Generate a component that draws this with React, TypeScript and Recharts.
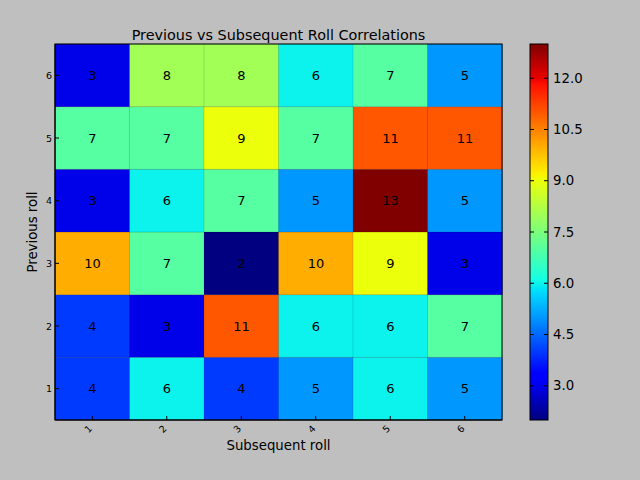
import { BarChart, Bar, XAxis, YAxis, Cell, LabelList } from "recharts"

// roll faces, used for both axes
const subsequentRolls = ["1", "2", "3", "4", "5", "6"]
const previousRolls = ["1", "2", "3", "4", "5", "6"]

// counts per previous roll, one entry per subsequent roll 1..6
const prevRoll1 = [4, 6, 4, 5, 6, 5]
const prevRoll2 = [4, 3, 11, 6, 6, 7]
const prevRoll3 = [10, 7, 2, 10, 9, 3]
const prevRoll4 = [3, 6, 7, 5, 13, 5]
const prevRoll5 = [7, 7, 9, 7, 11, 11]
const prevRoll6 = [3, 8, 8, 6, 7, 5]
const counts = [prevRoll1, prevRoll2, prevRoll3, prevRoll4, prevRoll5, prevRoll6]

const colorTicks = [3.0, 4.5, 6.0, 7.5, 9.0, 10.5, 12.0]
const colorMin = 2
const colorMax = 13

const W = 640
const H = 480
const margin = { top: 44, right: 138, bottom: 0, left: 0 }
const yAxisWidth = 55
const xAxisHeight = 60
const plotLeft = margin.left + yAxisWidth
const plotTop = margin.top
const plotRight = W - margin.right
const plotBottom = H - margin.bottom - xAxisHeight
const font = "DejaVu Sans, Liberation Sans, sans-serif"

// matplotlib "jet"
const jetR: [number, number][] = [[0, 0], [0.35, 0], [0.66, 1], [0.89, 1], [1, 0.5]]
const jetG: [number, number][] = [[0, 0], [0.125, 0], [0.375, 1], [0.64, 1], [0.91, 0], [1, 0]]
const jetB: [number, number][] = [[0, 0.5], [0.11, 1], [0.34, 1], [0.65, 0], [1, 0]]

function interp(pts: [number, number][], t: number) {
  for (let i = 1; i < pts.length; i++) {
    if (t <= pts[i][0]) {
      const [x0, y0] = pts[i - 1]
      const [x1, y1] = pts[i]
      return y0 + ((t - x0) / (x1 - x0)) * (y1 - y0)
    }
  }
  return pts[pts.length - 1][1]
}

function jetAt(t: number) {
  const c = Math.max(0, Math.min(1, t))
  const r = Math.round(interp(jetR, c) * 255)
  const g = Math.round(interp(jetG, c) * 255)
  const b = Math.round(interp(jetB, c) * 255)
  return `rgb(${r},${g},${b})`
}

const colorFor = (v: number) => jetAt((v - colorMin) / (colorMax - colorMin))

// one stacked segment of height 1 per previous roll, count kept alongside
const tableData = subsequentRolls.map((roll, j) => {
  const row: Record<string, string | number> = { roll }
  counts.forEach((series, i) => {
    row[`p${i}`] = 1
    row[`c${i}`] = series[j]
  })
  return row
})

const BottomTick = (props: any) => {
  const { x, y, payload } = props
  return (
    <g>
      <line x1={x} y1={y} x2={x} y2={y - 4} stroke="#000" />
      <g transform={`translate(${x - 4},${y + 9}) rotate(-45)`}>
        <text textAnchor="middle" dominantBaseline="central" fontSize={9.5} fontFamily={font} fill="#000">
          {payload.value}
        </text>
      </g>
    </g>
  )
}

const TopTick = (props: any) => {
  const { x, y } = props
  return <line x1={x} y1={y} x2={x} y2={y + 4} stroke="#000" />
}

const LeftTick = (props: any) => {
  const { x, y, index } = props
  return (
    <g>
      <line x1={x} y1={y} x2={x + 4} y2={y} stroke="#000" />
      <text x={x - 3} y={y} textAnchor="end" dominantBaseline="central" fontSize={9.5} fontFamily={font} fill="#000">
        {previousRolls[index]}
      </text>
    </g>
  )
}

const RightTick = (props: any) => {
  const { x, y } = props
  return <line x1={x} y1={y} x2={x - 4} y2={y} stroke="#000" />
}

const gradStops = [0, 0.11, 0.125, 0.2, 0.34, 0.35, 0.375, 0.5, 0.64, 0.65, 0.66, 0.75, 0.89, 0.91, 1]

export default function App() {
  const yTicks = previousRolls.map((_, i) => i + 0.5)
  const cbLeft = 530
  const cbWidth = 18
  const cbY = (v: number) => plotBottom - ((v - colorMin) / (colorMax - colorMin)) * (plotBottom - plotTop)

  return (
    <div style={{ position: "absolute", left: 0, top: 0, width: W, height: H, background: "#bfbfbf", fontFamily: font }}>
      <BarChart width={W} height={H} data={tableData} margin={margin} barCategoryGap={0} barGap={0}>
        <XAxis
          xAxisId="bottom"
          dataKey="roll"
          height={xAxisHeight}
          axisLine={{ stroke: "#000" }}
          tickLine={false}
          tickSize={0}
          tickMargin={0}
          tick={<BottomTick />}
          interval={0}
        />
        <XAxis
          xAxisId="top"
          dataKey="roll"
          orientation="top"
          height={0}
          axisLine={{ stroke: "#000" }}
          tickLine={false}
          tickSize={0}
          tickMargin={0}
          tick={<TopTick />}
          interval={0}
        />
        <YAxis
          yAxisId="left"
          type="number"
          domain={[0, previousRolls.length]}
          ticks={yTicks}
          width={yAxisWidth}
          axisLine={{ stroke: "#000" }}
          tickLine={false}
          tickSize={0}
          tickMargin={0}
          tick={<LeftTick />}
          interval={0}
        />
        <YAxis
          yAxisId="right"
          orientation="right"
          type="number"
          domain={[0, previousRolls.length]}
          ticks={yTicks}
          width={0}
          axisLine={{ stroke: "#000" }}
          tickLine={false}
          tickSize={0}
          tickMargin={0}
          tick={<RightTick />}
          interval={0}
        />
        {counts.map((series, i) => (
          <Bar
            key={i}
            xAxisId="bottom"
            yAxisId="left"
            dataKey={`p${i}`}
            stackId="grid"
            isAnimationActive={false}
          >
            {series.map((v, j) => (
              <Cell key={j} fill={colorFor(v)} stroke="rgba(0,0,0,0.12)" strokeWidth={1} />
            ))}
            <LabelList dataKey={`c${i}`} position="center" fill="#000" fontSize={13} fontFamily={font} />
          </Bar>
        ))}
      </BarChart>

      <svg width={W} height={H} style={{ position: "absolute", left: 0, top: 0, pointerEvents: "none" }}>
        <defs>
          <linearGradient id="jet" x1="0" y1="1" x2="0" y2="0">
            {gradStops.map((t) => (
              <stop key={t} offset={t} stopColor={jetAt(t)} />
            ))}
          </linearGradient>
        </defs>
        <rect
          x={plotLeft}
          y={plotTop}
          width={plotRight - plotLeft}
          height={plotBottom - plotTop}
          fill="none"
          stroke="#000"
        />
        <text x={(plotLeft + plotRight) / 2} y={40} textAnchor="middle" fontSize={14.4} fontFamily={font} fill="#000">
          Previous vs Subsequent Roll Correlations
        </text>
        <text x={(plotLeft + plotRight) / 2} y={450} textAnchor="middle" fontSize={13.3} fontFamily={font} fill="#000">
          Subsequent roll
        </text>
        <text
          transform={`translate(37,${(plotTop + plotBottom) / 2}) rotate(-90)`}
          textAnchor="middle"
          fontSize={13.3}
          fontFamily={font}
          fill="#000"
        >
          Previous roll
        </text>

        <rect x={cbLeft} y={plotTop} width={cbWidth} height={plotBottom - plotTop} fill="url(#jet)" stroke="#000" />
        {colorTicks.map((v) => (
          <g key={v}>
            <line x1={cbLeft} x2={cbLeft + 4} y1={cbY(v)} y2={cbY(v)} stroke="#000" />
            <line x1={cbLeft + cbWidth - 4} x2={cbLeft + cbWidth} y1={cbY(v)} y2={cbY(v)} stroke="#000" />
            <text
              x={cbLeft + cbWidth + 5}
              y={cbY(v)}
              dominantBaseline="central"
              fontSize={13.3}
              fontFamily={font}
              fill="#000"
            >
              {v.toFixed(1)}
            </text>
          </g>
        ))}
      </svg>
    </div>
  )
}
